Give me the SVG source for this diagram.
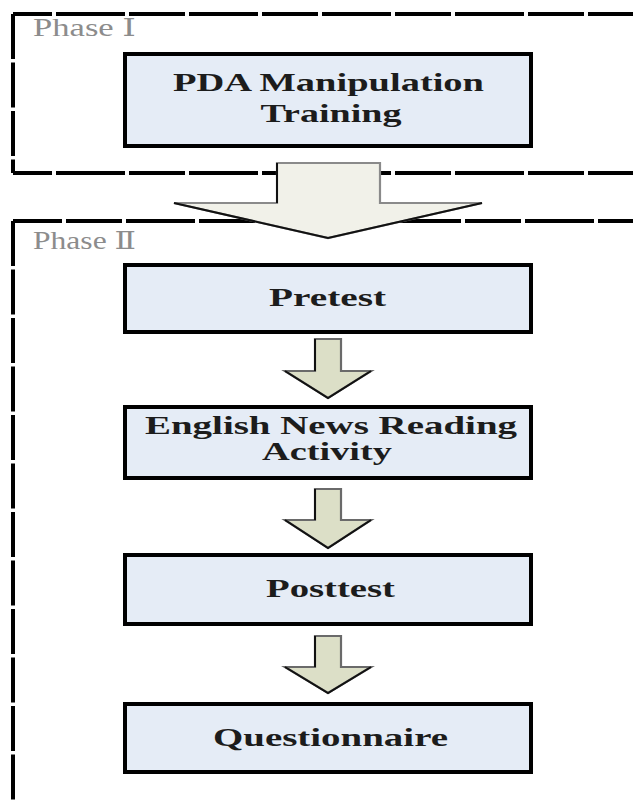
<svg xmlns="http://www.w3.org/2000/svg" width="633" height="801" viewBox="0 0 633 801">
  <style>
    .frameH { fill: none; stroke: #000; stroke-width: 4; stroke-dasharray: 69 4 56 4; }
    .frameV { fill: none; stroke: #000; stroke-width: 4; stroke-dasharray: 45 3.5; }
    .phase { font-family: "Liberation Serif", "DejaVu Serif", serif; font-size: 25px; fill: #8c8c8c; }
    .box { fill: #e5ecf6; stroke: #000; stroke-width: 4; }
    .label { font-family: "Liberation Serif", "DejaVu Serif", serif; font-size: 25px; font-weight: bold; fill: #1c1c1c; text-anchor: middle; }
    .bigArrow { fill: #f1f1e9; stroke: #8a8a8a; stroke-width: 2.2; stroke-linejoin: miter; }
    .smallArrow { fill: #dcdfc7; stroke: #6a6a6a; stroke-width: 2.2; stroke-linejoin: miter; }
    .shade { fill: none; stroke: #111; stroke-width: 2; }
  </style>

  <g id="phase1-frame">
    <path class="frameH" d="M13 14 H645" stroke-dashoffset="90"/>
    <path class="frameV" d="M13 14 V173"/>
    <path class="frameH" d="M13 173 H645" stroke-dashoffset="90"/>
    <text class="phase" x="33" y="36" textLength="103" lengthAdjust="spacingAndGlyphs">Phase Ⅰ</text>
  </g>

  <g id="phase2-frame">
    <path class="frameH" d="M13 221 H645" stroke-dashoffset="20"/>
    <path class="frameV" d="M13 221 V810"/>
    <text class="phase" x="33" y="249" textLength="103" lengthAdjust="spacingAndGlyphs">Phase Ⅱ</text>
  </g>

  <g id="connectors">
    <g id="arrow-phase">
      <polygon class="bigArrow" points="277,163 380,163 380,203 482,203 328,238 174,203 277,203"/>
      <path class="shade" d="M277 163 V203 M174 203 L328 238 L482 203"/>
    </g>
    <g id="arrow-1">
      <polygon class="smallArrow" points="315,339 341,339 341,371 371,371 328,398 285,371 315,371"/>
      <path class="shade" d="M315 339 V371 M285 371 L328 398 L371 371"/>
    </g>
    <g id="arrow-2">
      <polygon class="smallArrow" points="315,489 341,489 341,520 371,520 328,548 285,520 315,520"/>
      <path class="shade" d="M315 489 V520 M285 520 L328 548 L371 520"/>
    </g>
    <g id="arrow-3">
      <polygon class="smallArrow" points="315,636 341,636 341,667 371,667 328,693 285,667 315,667"/>
      <path class="shade" d="M315 636 V667 M285 667 L328 693 L371 667"/>
    </g>
  </g>

  <g id="node-pda">
    <rect class="box" x="125" y="54" width="406" height="92"/>
    <text class="label" x="328.5" y="91" textLength="311" lengthAdjust="spacingAndGlyphs">PDA Manipulation</text>
    <text class="label" x="331" y="122" textLength="141" lengthAdjust="spacingAndGlyphs">Training</text>
  </g>

  <g id="node-pretest">
    <rect class="box" x="125" y="265" width="406" height="67"/>
    <text class="label" x="327.5" y="306" textLength="117" lengthAdjust="spacingAndGlyphs">Pretest</text>
  </g>

  <g id="node-reading">
    <rect class="box" x="125" y="407" width="406" height="71"/>
    <text class="label" x="331" y="434" textLength="372" lengthAdjust="spacingAndGlyphs">English News Reading</text>
    <text class="label" x="327" y="460" textLength="130" lengthAdjust="spacingAndGlyphs">Activity</text>
  </g>

  <g id="node-posttest">
    <rect class="box" x="125" y="555" width="406" height="69"/>
    <text class="label" x="330.5" y="597" textLength="129" lengthAdjust="spacingAndGlyphs">Posttest</text>
  </g>

  <g id="node-questionnaire">
    <rect class="box" x="125" y="704" width="406" height="68"/>
    <text class="label" x="330.5" y="746" textLength="235" lengthAdjust="spacingAndGlyphs">Questionnaire</text>
  </g>
</svg>
